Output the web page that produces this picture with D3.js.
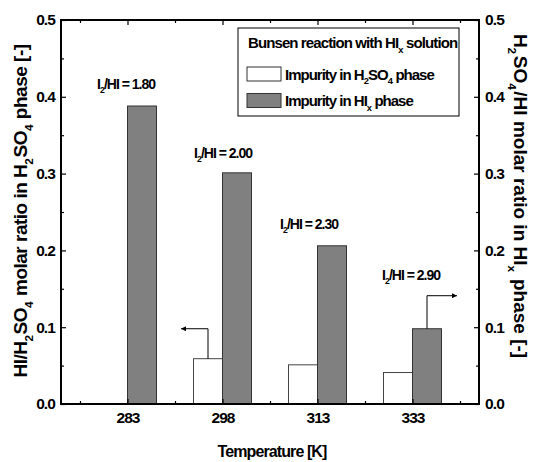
<!DOCTYPE html>
<html>
<head>
<meta charset="utf-8">
<script src="https://cdn.jsdelivr.net/npm/d3@7/dist/d3.min.js"></script>
<style>
  body { margin: 0; background: #fff; }
  svg { display: block; font-family: "Liberation Sans", Arial, sans-serif; }
</style>
</head>
<body>
<svg id="chart" width="537" height="462"></svg>
<script>
// ---- data ----
const categories = ["283", "298", "313", "333"];
const impurityH2SO4 = [0, 0.059, 0.051, 0.041];   // white bars (left axis)
const impurityHIx   = [0.388, 0.301, 0.206, 0.098]; // gray bars (right axis)
const ratioLabels   = ["1.80", "2.00", "2.30", "2.90"];
const yTicks = [0, 0.1, 0.2, 0.3, 0.4, 0.5];
const yMinorTicks = [0.05, 0.15, 0.25, 0.35, 0.45];

// ---- layout ----
const L = 61, R = 479, T = 20, B = 404;
const svg = d3.select("#chart");

const x = d3.scalePoint().domain(categories).range([L, R]).padding(0.7);
const step = x.step();
const barW = 29;
const y = d3.scaleLinear().domain([0, 0.5]).range([B, T]);
const y2 = d3.scaleLinear().domain([0, 0.5]).range([B, T]);

// ---- bars ----
const gBars = svg.append("g");
gBars.selectAll("rect.w").data(categories).join("rect")
  .attr("class", "w")
  .attr("x", d => x(d) - barW)
  .attr("width", barW)
  .attr("y", (d, i) => y(impurityH2SO4[i]))
  .attr("height", (d, i) => B - y(impurityH2SO4[i]))
  .attr("fill", "#fff")
  .attr("stroke", (d, i) => impurityH2SO4[i] > 0 ? "#444" : "none")
  .attr("stroke-width", 1);

gBars.selectAll("rect.g").data(categories).join("rect")
  .attr("class", "g")
  .attr("x", d => x(d))
  .attr("width", barW)
  .attr("y", (d, i) => y2(impurityHIx[i]))
  .attr("height", (d, i) => B - y2(impurityHIx[i]))
  .attr("fill", "#808080")
  .attr("stroke", "#333")
  .attr("stroke-width", 1);

// ---- axes ----
const tickFmt = d3.format(".1f");
svg.append("g").attr("transform", `translate(${L},0)`)
  .call(d3.axisLeft(y).tickValues(yTicks).tickFormat(tickFmt).tickSizeInner(-5).tickSizeOuter(0).tickPadding(6));
svg.append("g").attr("transform", `translate(${L},0)`)
  .call(d3.axisLeft(y).tickValues(yMinorTicks).tickFormat("").tickSizeInner(-3).tickSizeOuter(0));
svg.append("g").attr("transform", `translate(${R},0)`)
  .call(d3.axisRight(y2).tickValues(yTicks).tickFormat(tickFmt).tickSizeInner(-5).tickSizeOuter(0).tickPadding(6));
svg.append("g").attr("transform", `translate(${R},0)`)
  .call(d3.axisRight(y2).tickValues(yMinorTicks).tickFormat("").tickSizeInner(-3).tickSizeOuter(0));

svg.append("g").attr("transform", `translate(0,${B})`)
  .call(d3.axisBottom(x).tickSizeInner(-5).tickSizeOuter(0).tickPadding(8));
const mids = categories.map(c => x(c) - step / 2).concat([x(categories[categories.length - 1]) + step / 2]);
const xLin = d3.scaleIdentity();
svg.append("g").attr("transform", `translate(0,${B})`)
  .call(d3.axisBottom(xLin).tickValues(mids).tickFormat("").tickSizeInner(-3).tickSizeOuter(0));
svg.append("g").attr("transform", `translate(0,${T})`)
  .call(d3.axisTop(x).tickFormat("").tickSizeInner(-5).tickSizeOuter(0));
svg.append("g").attr("transform", `translate(0,${T})`)
  .call(d3.axisTop(xLin).tickValues(mids).tickFormat("").tickSizeInner(-3).tickSizeOuter(0));

svg.selectAll(".domain").remove();
svg.selectAll(".tick line").attr("stroke", "#000").attr("stroke-width", 1.2);
svg.selectAll(".tick text")
  .attr("font-family", "'Liberation Sans', Arial, sans-serif")
  .attr("font-size", 15.5).attr("font-weight", "bold")
  .attr("letter-spacing", "-0.9").attr("fill", "#000");

// frame
svg.append("rect").attr("x", L).attr("y", T).attr("width", R - L).attr("height", B - T)
  .attr("fill", "none").attr("stroke", "#000").attr("stroke-width", 2);

// ---- helper for subscripted text ----
function richText(sel, parts, size) {
  parts.forEach(p => {
    if (typeof p === "string") {
      sel.append("tspan").text(p);
    } else {
      sel.append("tspan").attr("dy", size * 0.3).attr("font-size", size * 0.62).text(p.sub);
      sel.append("tspan").attr("dy", -size * 0.3).text("\u200A");
    }
  });
}

// ---- axis titles ----
const tL = svg.append("text")
  .attr("transform", `translate(27,211) rotate(-90)`)
  .attr("text-anchor", "middle").attr("font-size", 19).attr("font-weight", "bold")
  .attr("letter-spacing", "-0.5");
richText(tL, ["HI/H", {sub: "2"}, "SO", {sub: "4"}, " molar ratio in H", {sub: "2"}, "SO", {sub: "4"}, " phase [-]"], 19);

const tR = svg.append("text")
  .attr("transform", `translate(514,196) rotate(90)`)
  .attr("text-anchor", "middle").attr("font-size", 19).attr("font-weight", "bold")
  .attr("letter-spacing", "0");
richText(tR, ["H", {sub: "2"}, "SO", {sub: "4"}, "/HI molar ratio in HI", {sub: "x"}, " phase [-]"], 19);

svg.append("text").attr("x", (L + R) / 2 + 2).attr("y", 457)
  .attr("text-anchor", "middle").attr("font-size", 16).attr("font-weight", "bold")
  .attr("letter-spacing", "-0.9")
  .text("Temperature [K]");

// ---- ratio annotations ----
const annPos = [[97, 89], [194, 158], [280, 229], [382, 280]];
ratioLabels.forEach((r, i) => {
  const t = svg.append("text").attr("x", annPos[i][0]).attr("y", annPos[i][1])
    .attr("font-size", 14).attr("font-weight", "bold").attr("letter-spacing", "-1");
  richText(t, ["I", {sub: "2"}, "/HI = " + r], 14);
});

// ---- arrows ----
const defs = svg.append("defs");
defs.append("marker").attr("id", "ah").attr("viewBox", "0 0 10 10")
  .attr("refX", 10).attr("refY", 5).attr("markerWidth", 9).attr("markerHeight", 5)
  .attr("markerUnits", "userSpaceOnUse").attr("orient", "auto")
  .append("path").attr("d", "M0,0 L10,5 L0,10 Z").attr("fill", "#000");

const xw = x("298") - barW / 2;
const yw = y(impurityH2SO4[1]);
svg.append("path")
  .attr("d", `M${xw},${yw} V${y(0.098)} H${xw - 27}`)
  .attr("fill", "none").attr("stroke", "#000").attr("stroke-width", 1)
  .attr("marker-end", "url(#ah)");

const xg = x("333") + barW / 2;
const yg = y2(impurityHIx[3]);
svg.append("path")
  .attr("d", `M${xg},${yg} V${y2(0.141)} H${xg + 30}`)
  .attr("fill", "none").attr("stroke", "#000").attr("stroke-width", 1)
  .attr("marker-end", "url(#ah)");

// ---- legend ----
const lg = svg.append("g");
lg.append("rect").attr("x", 238).attr("y", 28).attr("width", 221).attr("height", 88)
  .attr("fill", "#fff").attr("stroke", "#000").attr("stroke-width", 1);
const lt = lg.append("text").attr("x", 248).attr("y", 48)
  .attr("font-size", 15).attr("font-weight", "bold").attr("letter-spacing", "-0.9");
richText(lt, ["Bunsen reaction with HI", {sub: "x"}, " solution"], 15);

const legendRows = [
  {fill: "#fff", parts: ["Impurity in H", {sub: "2"}, "SO", {sub: "4"}, " phase"]},
  {fill: "#808080", parts: ["Impurity in HI", {sub: "x"}, " phase"]}
];
legendRows.forEach((r, i) => {
  const yy = 67 + i * 26.5;
  lg.append("rect").attr("x", 247).attr("y", yy).attr("width", 34).attr("height", 14)
    .attr("fill", r.fill).attr("stroke", "#333").attr("stroke-width", 1);
  const t = lg.append("text").attr("x", 285).attr("y", yy + 12.5)
    .attr("font-size", 15).attr("letter-spacing", "-1").attr("font-weight", "bold");
  richText(t, r.parts, 15);
});
</script>
</body>
</html>
